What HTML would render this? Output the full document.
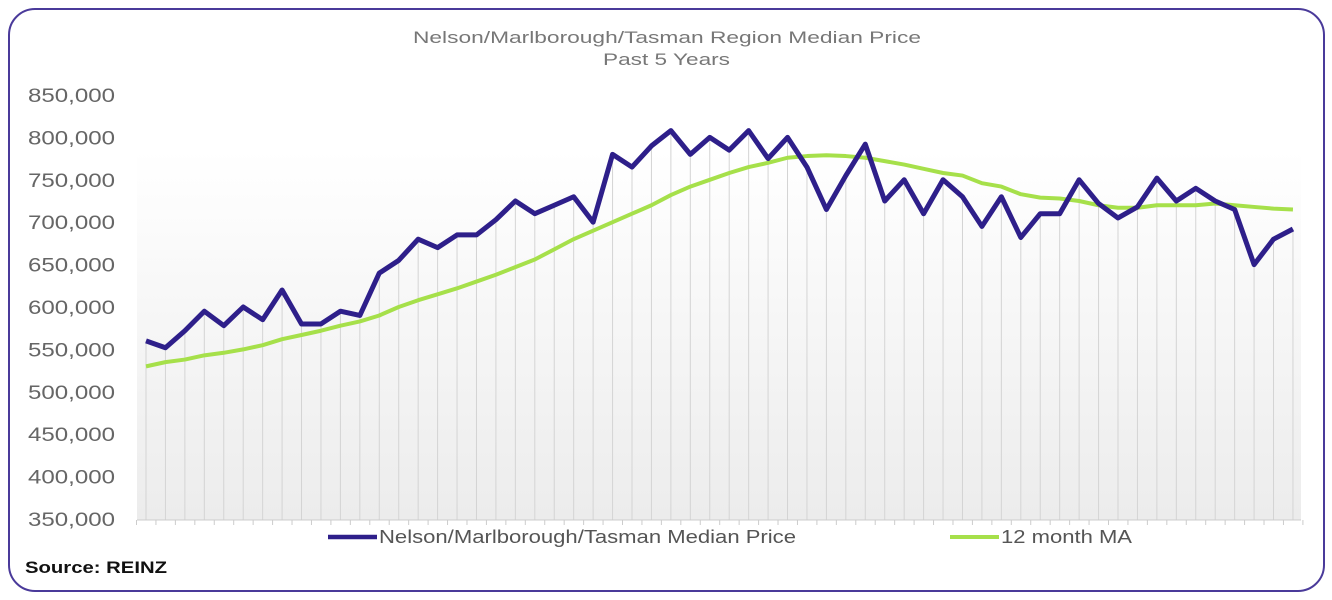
<!DOCTYPE html>
<html><head><meta charset="utf-8"><style>
html,body{margin:0;padding:0;background:#fff;}
svg{display:block;}
text{font-family:"Liberation Sans",sans-serif;}
</style></head><body>
<svg id="s" width="1332" height="600" xmlns="http://www.w3.org/2000/svg">
<defs><linearGradient id="g" x1="0" y1="0" x2="0" y2="1"><stop offset="0" stop-color="#ffffff"/><stop offset="1" stop-color="#ececec"/></linearGradient></defs>
<rect x="9" y="9" width="1315" height="582" rx="26" fill="#fff" stroke="#4a3a9a" stroke-width="2"/>
<rect x="137" y="150" width="1164" height="370" fill="url(#g)"/>
<text x="413" y="43" textLength="508" lengthAdjust="spacingAndGlyphs" font-size="17" fill="#777">Nelson/Marlborough/Tasman Region Median Price</text>
<text x="603" y="65" textLength="127" lengthAdjust="spacingAndGlyphs" font-size="17" fill="#777">Past 5 Years</text>
<g id="grid"></g>
<g id="yl" font-size="19" fill="#666"></g>
<line x1="137" y1="520" x2="1301" y2="520" stroke="#ccc" stroke-width="1"/>
<polyline id="ma" fill="none" stroke="#a6e04a" stroke-width="4" stroke-linejoin="round"/>
<polyline id="mp" fill="none" stroke="#2e1f8a" stroke-width="5" stroke-linejoin="round"/>
<line x1="328" y1="537" x2="377" y2="537" stroke="#2e1f8a" stroke-width="4.5"/>
<text x="379" y="543" textLength="417" lengthAdjust="spacingAndGlyphs" font-size="18" fill="#555">Nelson/Marlborough/Tasman Median Price</text>
<line x1="950" y1="537" x2="999" y2="537" stroke="#a6e04a" stroke-width="4"/>
<text x="1001" y="543" textLength="131" lengthAdjust="spacingAndGlyphs" font-size="18" fill="#555">12 month MA</text>
<text x="25" y="573" textLength="142" lengthAdjust="spacingAndGlyphs" font-size="17" font-weight="bold" fill="#111">Source: REINZ</text>
</svg>
<script>
var mp=[560,552,572,595,578,600,585,620,580,580,595,590,640,655,680,670,685,685,703,725,710,720,730,700,780,765,790,808,780,800,785,808,775,800,765,715,755,792,725,750,710,750,730,695,730,682,710,710,750,722,705,718,752,725,740,725,715,650,680,692];
var ma=[530,535,538,543,546,550,555,562,567,572,578,583,590,600,608,615,622,630,638,647,656,668,680,690,700,710,720,732,742,750,758,765,770,776,778,779,778,776,772,768,763,758,755,746,742,733,729,728,725,720,717,717,720,720,720,722,720,718,716,715];
function X(i){return 146+i*19.44;}function Y(v){return 519-(v-350)*0.848;}
var grid=document.getElementById('grid'),h='';
for(var i=0;i<60;i++){h+='<line x1="'+X(i)+'" y1="'+Y(mp[i])+'" x2="'+X(i)+'" y2="520" stroke="#d4d4d4" stroke-width="1"/>';}
for(var i=0;i<=60;i++){var x=136.5+i*19.44;h+='<line x1="'+x+'" y1="520" x2="'+x+'" y2="525" stroke="#ccc" stroke-width="1"/>';}
grid.innerHTML=h;
var yl='';for(var v=350;v<=850;v+=50){yl+='<text x="28" y="'+(Y(v)+7)+'" textLength="87" lengthAdjust="spacingAndGlyphs">'+v+',000</text>';}
document.getElementById('yl').innerHTML=yl;
document.getElementById('mp').setAttribute('points',mp.map(function(v,i){return X(i)+','+Y(v)}).join(' '));
document.getElementById('ma').setAttribute('points',ma.map(function(v,i){return X(i)+','+Y(v)}).join(' '));
</script>
</body></html>
